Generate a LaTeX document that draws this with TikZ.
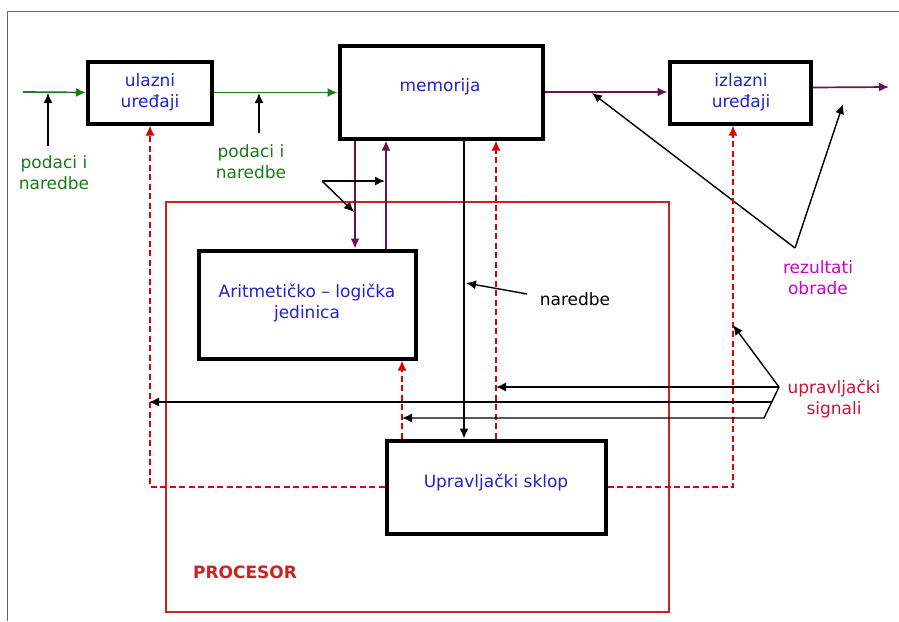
\documentclass[tikz,border=0pt]{standalone}
\usepackage{fontspec}
\setmainfont{DejaVu Sans}
\usetikzlibrary{arrows.meta,calc}
\definecolor{txtblue}{HTML}{2222CC}
\definecolor{grn}{HTML}{1A7A1A}
\definecolor{purp}{HTML}{6B1446}
\definecolor{magt}{HTML}{CC00CC}
\definecolor{sigred}{HTML}{CC1133}
\definecolor{dred}{HTML}{E00000}
\definecolor{procred}{HTML}{CC2222}
\tikzset{
  unitbox/.style={draw=black,line width=4pt,inner sep=0pt},
  txt/.style={inner sep=0pt,anchor=base,align=center,font=\fontsize{17}{20.5}\selectfont},
  tip/.style={-{Latex[length=10pt,width=9pt]}},
  garrow/.style={tip,draw=grn,fill=grn,line width=1.7pt},
  parrow/.style={tip,draw=purp,fill=purp,line width=1.7pt},
  barrow/.style={tip,draw=black,line width=1.4pt},
  rdash/.style={tip,draw=dred,line width=1.5pt,dash pattern=on 6pt off 3.5pt},
}
\begin{document}
\begin{tikzpicture}[x=1pt,y=-1pt]
\useasboundingbox[fill=white] (0,0) rectangle (899,621);
% frame
\draw[gray!80!black,line width=1pt] (7,621) -- (7,11) -- (899,11);
% processor area
\node[draw=procred,line width=1.3pt,minimum width=503pt,minimum height=410pt,inner sep=0pt] (proc) at (417.5,407) {};
\node[txt,font=\bfseries\fontsize{17}{20}\selectfont,text=procred] (proclbl) at (245,578) {PROCESOR};
% boxes
\node[unitbox,minimum width=124pt,minimum height=62pt] (ulaz) at (150,92.5) {};
\node[unitbox,minimum width=203pt,minimum height=93pt] (mem) at (441,92) {};
\node[unitbox,minimum width=141pt,minimum height=62pt] (izl) at (740,92.5) {};
\node[unitbox,minimum width=217pt,minimum height=108pt] (alu) at (307,304.5) {};
\node[unitbox,minimum width=219pt,minimum height=93pt] (upr) at (496,487) {};
% box texts (base = last line)
\node[txt,text=txtblue] (ulazt) at (150,107) {ulazni\\uređaji};
\node[txt,text=txtblue] (memt) at (440,91) {memorija};
\node[txt,text=txtblue] (izlt) at (741,107) {izlazni\\uređaji};
\node[txt,text=txtblue] (alut) at (307,318) {Aritmetičko – logička\\jedinica};
\node[txt,text=txtblue] (uprt) at (496,487) {Upravljački sklop};
% labels
\node[txt,text=grn] (pod1) at (54,189) {podaci i\\naredbe};
\node[txt,text=grn] (pod2) at (251,178) {podaci i\\naredbe};
\node[txt,text=black] (nar) at (575,305) {naredbe};
\node[txt,text=magt] (rez) at (818,294) {rezultati\\obrade};
\node[txt,text=sigred] (sig) at (834,414) {upravljački\\signali};
% coordinates
\coordinate (in0) at (23,92);
\coordinate (out0) at (889,87);
\coordinate (pt1) at (48,146);
\coordinate (pt1e) at (48,93);
\coordinate (pt2) at (259,133);
\coordinate (pt2e) at (259,93);
\coordinate (rz) at (795,248);
\coordinate (rza) at (592,93);
\coordinate (rzb) at (843,104);
\coordinate (br) at (322,181);
\coordinate (bra) at (385,181);
\coordinate (brb) at (354,212);
\coordinate (nr) at (527,294);
\coordinate (nre) at (466,283);
\coordinate (sg) at (779,387);
\coordinate (sga) at (733,325);
\coordinate (sgb) at (496,387);
\coordinate (sgk) at (764,418);
\coordinate (sgc) at (402,418);
\coordinate (sgm) at (772,402);
\coordinate (sgd) at (149,402);
% green input flow
\draw[garrow] (in0) -- (ulaz.west);
\draw[garrow] (ulaz.east) -- (ulaz.east -| mem.west);
\draw[barrow] (pt1) -- (pt1e);
\draw[barrow] (pt2) -- (pt2e);
% purple output flow
\draw[parrow] (mem.east) -- (mem.east -| izl.west);
\draw[parrow] ([yshift=5pt]izl.east) -- (out0);
\draw[barrow] (rz) -- (rza);
\draw[barrow] (rz) -- (rzb);
% memory <-> ALU
\draw[parrow] ([xshift=-86pt]mem.south) -- ([xshift=48pt]alu.north);
\draw[parrow] ([xshift=79pt]alu.north) -- ([xshift=-55pt]mem.south);
\draw[barrow] (br) -- (bra);
\draw[barrow] (br) -- (brb);
% memory -> control
\draw[barrow] ([xshift=23pt]mem.south) -- ([xshift=-32pt]upr.north);
\draw[barrow] (nr) -- (nre);
% control signals (dashed)
\draw[rdash] (upr.north) -- ([xshift=55pt]mem.south);
\draw[rdash] ([xshift=-94pt]upr.north) -- ([xshift=95pt]alu.south);
\draw[rdash] (upr.west) -| (ulaz.south);
\draw[rdash] (upr.east) -| ([xshift=-7pt]izl.south);
% control signal pointers
\draw[barrow] (sg) -- (sga);
\draw[barrow] (sg) -- (sgb);
\draw[barrow] (sg) -- (sgk) -- (sgc);
\draw[barrow] (sgm) -- (sgd);
\end{tikzpicture}
\end{document}
